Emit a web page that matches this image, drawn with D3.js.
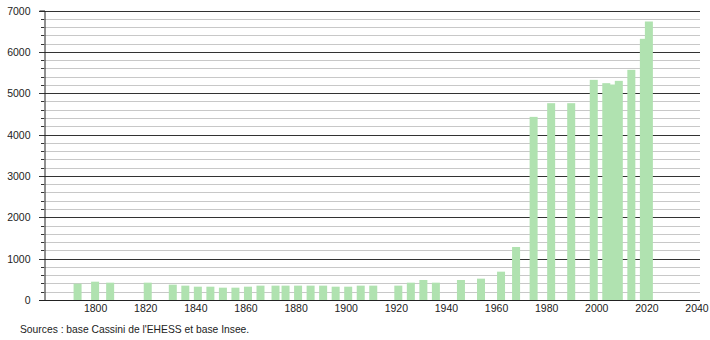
<!DOCTYPE html>
<html>
<head>
<meta charset="utf-8">
<script src="https://cdn.jsdelivr.net/npm/d3@7"></script>
<style>
  body { margin: 0; background: #fff; }
  text { font-family: "Liberation Sans", Arial, sans-serif; fill: #222; }
</style>
</head>
<body>
<div id="wrapper"></div>
<script>
// census years and population
const years = [1793, 1800, 1806, 1821, 1831, 1836, 1841, 1846, 1851, 1856,
  1861, 1866, 1872, 1876, 1881, 1886, 1891, 1896, 1901, 1906,
  1911, 1921, 1926, 1931, 1936, 1946, 1954, 1962, 1968, 1975,
  1982, 1990, 1999, 2004, 2006, 2009, 2014, 2019, 2021];
const population = [395, 443, 419, 419, 371, 347, 322, 322, 298, 298,
  322, 347, 347, 347, 347, 347, 347, 322, 322, 347,
  347, 347, 419, 484, 419, 484, 516, 685, 1282, 4428,
  4759, 4759, 5323, 5243, 5210, 5299, 5565, 6315, 6734];
const xTicks = [1800, 1820, 1840, 1860, 1880, 1900, 1920, 1940, 1960, 1980, 2000, 2020, 2040];
const yTicks = [0, 1000, 2000, 3000, 4000, 5000, 6000, 7000];
const sourceText = "Sources : base Cassini de l'EHESS et base Insee.";

function drawBars() {
  // 1. Access data
  const dataset = years.map((y, i) => ({ year: y, value: population[i] }));
  const xAccessor = (d) => d.year;
  const yAccessor = (d) => d.value;

  // 2. Chart dimensions
  const dimensions = {
    width: 710,
    height: 340,
    left: 44,
    right: 700,
    top: 10.5,
    bottom: 300,
  };

  // 3. Draw canvas
  const svg = d3
    .select("#wrapper")
    .append("svg")
    .attr("width", dimensions.width)
    .attr("height", dimensions.height);

  // 4. Scales
  const xScale = d3.scaleLinear().domain([1780, 2042]).range([45, 701.5]);
  const yScale = d3
    .scaleLinear()
    .domain([0, 7000])
    .range([dimensions.bottom, dimensions.top]);

  // 5. Grid (minor every 200, major every 1000)
  const minor = d3.range(200, 7000, 200).filter((v) => v % 1000 !== 0);
  const crisp = (v) => Math.round(yScale(v)) + 0.5;

  svg
    .append("g")
    .selectAll("line")
    .data(minor)
    .join("line")
    .attr("x1", dimensions.left - 3)
    .attr("x2", dimensions.right)
    .attr("y1", crisp)
    .attr("y2", crisp)
    .attr("stroke", "#c8c8c8");

  svg
    .append("g")
    .selectAll("line")
    .data(yTicks.filter((v) => v > 0))
    .join("line")
    .attr("x1", dimensions.left - 5)
    .attr("x2", dimensions.right)
    .attr("y1", crisp)
    .attr("y2", crisp)
    .attr("stroke", "#333");

  // minor tick stubs on the axis side
  svg
    .append("g")
    .selectAll("line")
    .data(minor)
    .join("line")
    .attr("x1", dimensions.left - 3)
    .attr("x2", dimensions.left)
    .attr("y1", crisp)
    .attr("y2", crisp)
    .attr("stroke", "#333");

  // 6. Bars
  const barWidth = 8;
  svg
    .append("g")
    .selectAll("rect")
    .data(dataset)
    .join("rect")
    .attr("x", (d) => xScale(xAccessor(d)) - barWidth / 2)
    .attr("y", (d) => yScale(yAccessor(d)))
    .attr("width", barWidth)
    .attr("height", (d) => yScale(0) - yScale(yAccessor(d)))
    .attr("fill", "#b0e2b0");

  // 7. Axes
  const yAxis = svg
    .append("g")
    .attr("transform", `translate(${dimensions.left + 0.5},0)`)
    .call(
      d3.axisLeft(yScale).tickValues(yTicks).tickFormat(d3.format("d")).tickSize(5).tickPadding(9)
    );
  yAxis.select(".domain").attr("stroke", "#222");
  yAxis.selectAll(".tick line").remove();
  yAxis.selectAll("text").style("font-size", "10.5px").attr("dy", "0.35em");

  svg
    .append("line")
    .attr("x1", dimensions.left - 5)
    .attr("x2", dimensions.right)
    .attr("y1", crisp(0))
    .attr("y2", crisp(0))
    .attr("stroke", "#222");

  const xAxis = svg
    .append("g")
    .attr("transform", `translate(0,${dimensions.bottom})`)
    .call(d3.axisBottom(xScale).tickValues(xTicks).tickFormat(d3.format("d")).tickSize(0).tickPadding(5));
  xAxis.select(".domain").remove();
  xAxis.selectAll("text").style("font-size", "10.5px");

  // 8. Source note
  svg
    .append("text")
    .attr("x", 20)
    .attr("y", 333)
    .style("font-size", "10.3px")
    .text(sourceText);
}
drawBars();
</script>
</body>
</html>
